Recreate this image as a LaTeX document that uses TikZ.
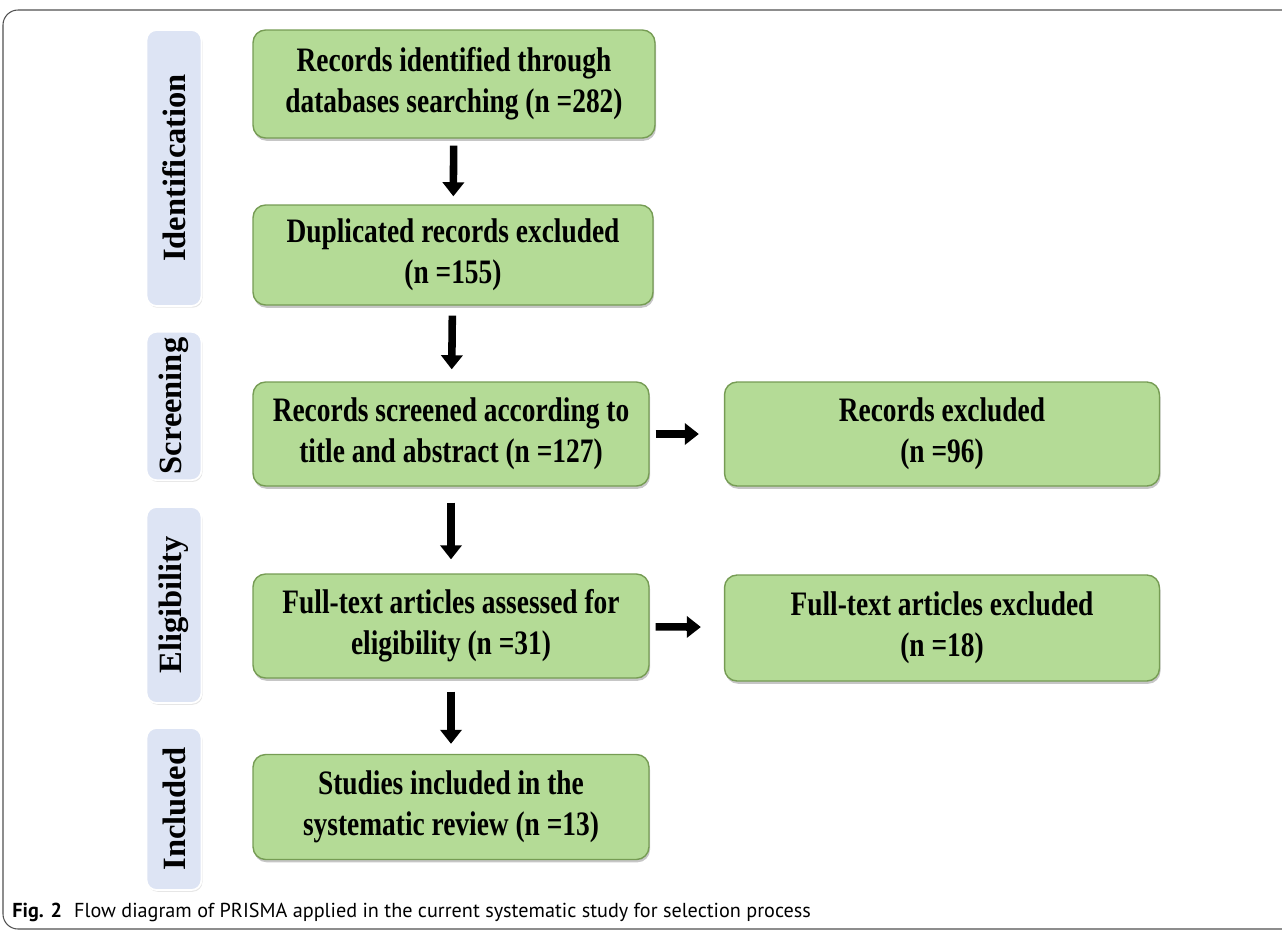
\documentclass[tikz,border=0pt]{standalone}
\usepackage{fontspec}
\setmainfont{Liberation Serif}
\newfontfamily\boxfont[FakeStretch=0.8]{Liberation Serif}
\newfontfamily\capfont{PT Sans}
\usepackage{tikz}
\usetikzlibrary{arrows.meta,shadows}
\definecolor{box_green}{RGB}{180,219,150}
\definecolor{edge_green}{RGB}{118,156,84}
\definecolor{stage_blue}{RGB}{221,228,244}
\definecolor{frame_gray}{RGB}{80,80,80}

\begin{document}
\begin{tikzpicture}[x=0.02cm,y=-0.02cm,>={Triangle[width=12pt,length=8pt]}]
    \tikzstyle{stepbox}=[draw=edge_green, fill=box_green, rounded corners=0.25cm, line width=0.8pt, minimum height=2.1cm, align=center, text=black, font=\boxfont\bfseries\fontsize{19.5}{23.5}\selectfont, drop shadow={shadow xshift=0.6pt, shadow yshift=-1.6pt, opacity=0.45}]
    \tikzstyle{stage}=[draw=white, fill=stage_blue, rounded corners=0.2cm, line width=1pt, minimum height=1.1cm, rotate=90, text=black, font=\bfseries\fontsize{18.5}{21}\selectfont, drop shadow={shadow xshift=0.6pt, shadow yshift=-1pt, opacity=0.2}]
    \tikzstyle{flow}=[->, line width=4.3pt, black]

    \useasboundingbox (0,0) rectangle (1282,931);
    \draw[frame_gray, line width=0.6pt, rounded corners=0.3cm] (3,10) rectangle (1300,929);

    % phases
    \node[stage, minimum width=5.52cm] (s1) at (174,168) {Identification};
    \node[stage, minimum width=2.96cm] (s2) at (174,406) {Screening};
    \node[stage, minimum width=3.92cm] (s3) at (174,605) {Eligibility};
    \node[stage, minimum width=3.24cm] (s4) at (174,809) {Included};

    % boxes
    \node[stepbox, minimum width=8.04cm, minimum height=2.16cm] (b1) at (454,84)  {Records identified through\\databases searching (n =282)};
    \node[stepbox, minimum width=8.0cm,  minimum height=2.0cm]  (b2) at (453,255) {Duplicated records excluded\\(n =155)};
    \node[stepbox, minimum width=7.92cm, minimum height=2.08cm] (b3) at (451,434) {Records screened according to\\title and abstract (n =127)};
    \node[stepbox, minimum width=8.7cm,  minimum height=2.08cm] (b4) at (942,434) {Records excluded\\(n =96)};
    \node[stepbox, minimum width=7.92cm, minimum height=2.08cm] (b5) at (451,626) {Full-text articles assessed for\\eligibility (n =31)};
    \node[stepbox, minimum width=8.7cm,  minimum height=2.12cm] (b6) at (942,628) {Full-text articles excluded\\(n =18)};
    \node[stepbox, minimum width=7.92cm, minimum height=2.1cm]  (b7) at (451,807) {Studies included in the\\systematic review (n =13)};

    \path[flow]
     (b1) edge[shorten <=0.14cm, shorten >=0.16cm] (b2)
     (b2) edge[shorten <=0.2cm,  shorten >=0.24cm] (b3)
     (b3) edge[shorten <=0.32cm, shorten >=0.28cm] (b5)
     (b5) edge[shorten <=0.26cm, shorten >=0.2cm]  (b7)
     (b3) edge[shorten <=0.12cm, shorten >=0.5cm]  (b4)
     (b5) edge[shorten <=0.12cm, shorten >=0.46cm] (b6)
     ;

    \node[anchor=base west, inner sep=0pt, font=\capfont\fontsize{11.5}{14}\selectfont] (cap) at (12,917)
     {\textbf{Fig. 2}\hspace{0.6em}Flow diagram of PRISMA applied in the current systematic study for selection process};
\end{tikzpicture}
\end{document}
